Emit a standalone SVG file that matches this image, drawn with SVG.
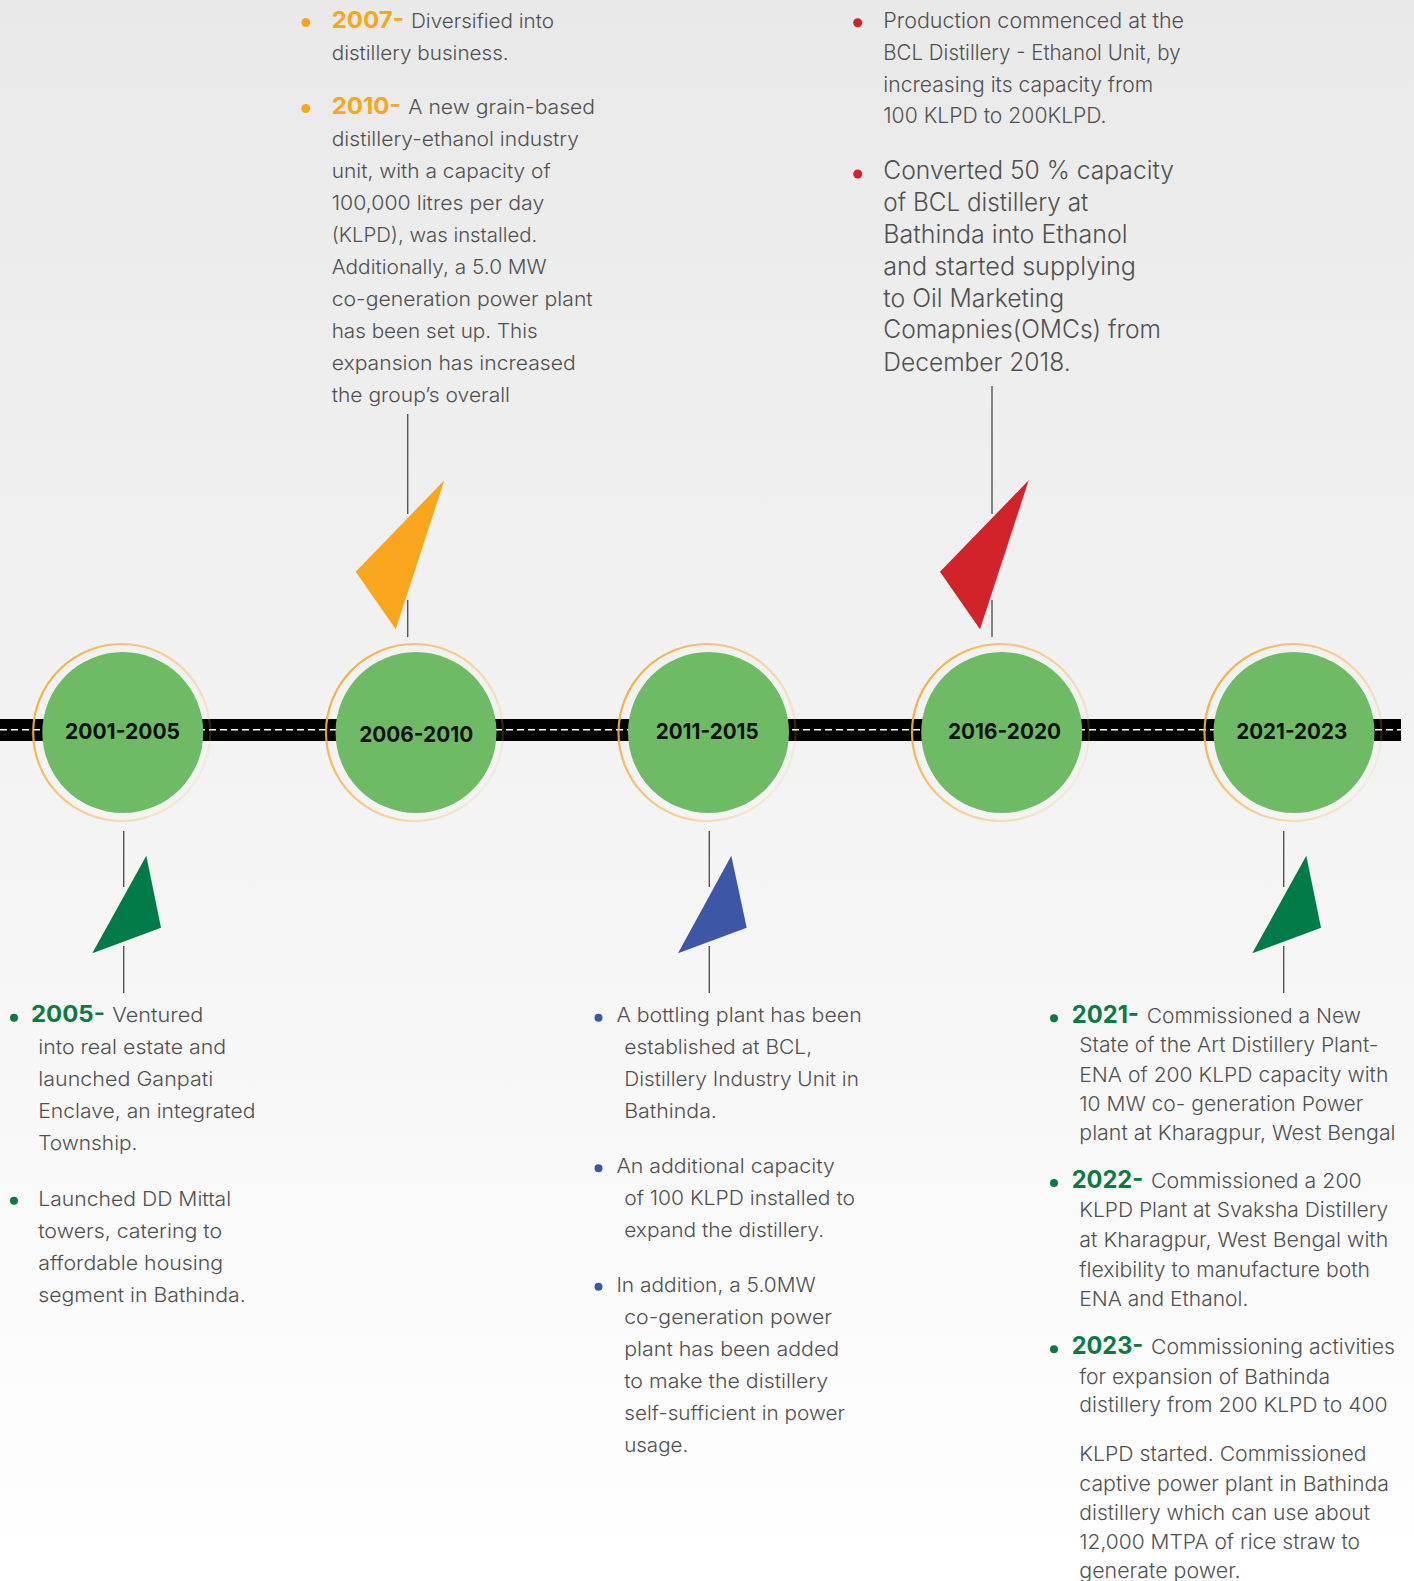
<svg xmlns="http://www.w3.org/2000/svg" width="1414" height="1581" viewBox="0 0 1414 1581">
<defs>
<linearGradient id="bg" x1="0" y1="0" x2="0" y2="1">
<stop offset="0" stop-color="#E9E9E9"/>
<stop offset="0.45" stop-color="#F2F2F2"/>
<stop offset="1" stop-color="#FFFFFF"/>
</linearGradient>
<linearGradient id="ring" x1="0" y1="0.25" x2="1" y2="0.75">
<stop offset="0" stop-color="#F5AE3C" stop-opacity="1"/>
<stop offset="0.5" stop-color="#F5B552" stop-opacity="0.6"/>
<stop offset="1" stop-color="#F5B552" stop-opacity="0.08"/>
</linearGradient>
<style>
.body{font-family:Inter,"Liberation Sans",sans-serif;font-weight:300;fill:#505050;}
.yr{font-family:Inter,"Liberation Sans",sans-serif;font-weight:700;}
.lbl{font-family:Inter,"Liberation Sans",sans-serif;font-weight:700;font-size:22px;fill:#111111;text-anchor:middle;}
.ring{fill:none;stroke:url(#ring);stroke-width:2.2;}
.disc{fill:#6FBA65;}
.conn line{stroke:#555555;stroke-width:1.4;}
</style>
</defs>
<rect x="0" y="0" width="1414" height="1581" fill="url(#bg)"/>

<g id="road">
<rect x="0" y="719" width="1401" height="22" fill="#000000"/>
<line x1="0" y1="729.8" x2="1401" y2="729.8" stroke="#FFFFFF" stroke-width="1.5" stroke-dasharray="7 4"/>
</g>

<g id="connectors" class="conn">
<line x1="407.7" y1="414" x2="407.7" y2="514"/>
<line x1="407.7" y1="600" x2="407.7" y2="637"/>
<polygon points="444.3,480.3 355.7,571.7 395.7,629.3" fill="#F9A61C"/>
<line x1="992" y1="386" x2="992" y2="514"/>
<line x1="992" y1="600" x2="992" y2="637"/>
<polygon points="1028.7,480.3 940,571.7 980,629.3" fill="#D2222A"/>
<line x1="123.7" y1="831" x2="123.7" y2="887"/>
<line x1="123.7" y1="946" x2="123.7" y2="993"/>
<polygon points="146.3,855.7 161,927.7 92.3,953.3" fill="#007A47"/>
<line x1="709.3" y1="831" x2="709.3" y2="887"/>
<line x1="709.3" y1="946" x2="709.3" y2="993"/>
<polygon points="731.3,855.7 746.7,927.7 678,953.3" fill="#3D56A6"/>
<line x1="1283.7" y1="831" x2="1283.7" y2="887"/>
<line x1="1283.7" y1="946" x2="1283.7" y2="993"/>
<polygon points="1306.3,855.7 1321,927.7 1252.3,953.3" fill="#007A47"/>
</g>

<g id="node-2001-2005">
<circle class="ring" cx="121.7" cy="732.5" r="88.5"/>
<circle class="disc" cx="122.8" cy="732.5" r="80.5"/>
<text class="lbl" x="122.5" y="739.3" textLength="115" lengthAdjust="spacingAndGlyphs">2001-2005</text>
</g>
<g id="node-2006-2010">
<circle class="ring" cx="414.5" cy="732.5" r="88.5"/>
<circle class="disc" cx="416" cy="732.5" r="80.5"/>
<text class="lbl" x="416.2" y="741.7" textLength="114" lengthAdjust="spacingAndGlyphs">2006-2010</text>
</g>
<g id="node-2011-2015">
<circle class="ring" cx="707" cy="732.5" r="88.5"/>
<circle class="disc" cx="708.5" cy="732.5" r="80.5"/>
<text class="lbl" x="707.2" y="739.3" textLength="103" lengthAdjust="spacingAndGlyphs">2011-2015</text>
</g>
<g id="node-2016-2020">
<circle class="ring" cx="1000.5" cy="732.5" r="88.5"/>
<circle class="disc" cx="1001.7" cy="732.5" r="80.5"/>
<text class="lbl" x="1004.5" y="739.3" textLength="113" lengthAdjust="spacingAndGlyphs">2016-2020</text>
</g>
<g id="node-2021-2023">
<circle class="ring" cx="1293" cy="732.5" r="88.5"/>
<circle class="disc" cx="1294" cy="732.5" r="80.5"/>
<text class="lbl" x="1291.7" y="739.3" textLength="111" lengthAdjust="spacingAndGlyphs">2021-2023</text>
</g>

<g id="notes-2006-2010" font-size="20">
<circle cx="305.8" cy="22.5" r="4.5" fill="#F9A61C"/>
<circle cx="305.8" cy="108.5" r="4.5" fill="#F9A61C"/>
<text class="yr" x="331.7" y="28.3" font-size="23.5" fill="#F9A61C" textLength="72.3" lengthAdjust="spacingAndGlyphs">2007-</text>
<text class="body" x="411" y="28.3" textLength="143" lengthAdjust="spacingAndGlyphs">Diversified into</text>
<text class="body" x="331.7" y="60" textLength="177" lengthAdjust="spacingAndGlyphs">distillery business.</text>
<text class="yr" x="331.7" y="114" font-size="23.5" fill="#F9A61C" textLength="69" lengthAdjust="spacingAndGlyphs">2010-</text>
<text class="body" x="408.3" y="114" textLength="186.7" lengthAdjust="spacingAndGlyphs">A new grain-based</text>
<text class="body" x="331.7" y="146" textLength="247.3" lengthAdjust="spacingAndGlyphs">distillery-ethanol industry</text>
<text class="body" x="331.7" y="178" textLength="219" lengthAdjust="spacingAndGlyphs">unit, with a capacity of</text>
<text class="body" x="331.7" y="210" textLength="212.6" lengthAdjust="spacingAndGlyphs">100,000 litres per day</text>
<text class="body" x="331.7" y="242" textLength="205.6" lengthAdjust="spacingAndGlyphs">(KLPD), was installed.</text>
<text class="body" x="331.7" y="274" textLength="215" lengthAdjust="spacingAndGlyphs">Additionally, a 5.0 MW</text>
<text class="body" x="331.7" y="306" textLength="261" lengthAdjust="spacingAndGlyphs">co-generation power plant</text>
<text class="body" x="331.7" y="338" textLength="206" lengthAdjust="spacingAndGlyphs">has been set up. This</text>
<text class="body" x="331.7" y="370" textLength="244" lengthAdjust="spacingAndGlyphs">expansion has increased</text>
<text class="body" x="331.7" y="401.7" textLength="178.3" lengthAdjust="spacingAndGlyphs">the group’s overall</text>
</g>

<g id="notes-2016-2020">
<circle cx="857.7" cy="22.7" r="4.5" fill="#D2222A"/>
<circle cx="857.7" cy="174" r="4.5" fill="#D2222A"/>
<g font-size="21.5">
<text class="body" x="883.3" y="28.3" textLength="300.7" lengthAdjust="spacingAndGlyphs">Production commenced at the</text>
<text class="body" x="883.3" y="60" textLength="297.3" lengthAdjust="spacingAndGlyphs">BCL Distillery - Ethanol Unit, by</text>
<text class="body" x="883.3" y="91.7" textLength="270" lengthAdjust="spacingAndGlyphs">increasing its capacity from</text>
<text class="body" x="883.3" y="123.3" textLength="223.3" lengthAdjust="spacingAndGlyphs">100 KLPD to 200KLPD.</text>
</g>
<g font-size="25">
<text class="body" x="883.3" y="179" textLength="290.7" lengthAdjust="spacingAndGlyphs">Converted 50 % capacity</text>
<text class="body" x="883.3" y="210.7" textLength="205" lengthAdjust="spacingAndGlyphs">of BCL distillery at</text>
<text class="body" x="883.3" y="242.7" textLength="244.3" lengthAdjust="spacingAndGlyphs">Bathinda into Ethanol</text>
<text class="body" x="883.3" y="275" textLength="252.7" lengthAdjust="spacingAndGlyphs">and started supplying</text>
<text class="body" x="883.3" y="306.7" textLength="181" lengthAdjust="spacingAndGlyphs">to Oil Marketing</text>
<text class="body" x="883.3" y="338.3" textLength="277.7" lengthAdjust="spacingAndGlyphs">Comapnies(OMCs) from</text>
<text class="body" x="883.3" y="370.7" textLength="187.3" lengthAdjust="spacingAndGlyphs">December 2018.</text>
</g>
</g>

<g id="notes-2001-2005" font-size="20">
<circle cx="14" cy="1017.7" r="4" fill="#0A7A43"/>
<circle cx="14" cy="1200.7" r="4" fill="#0A7A43"/>
<text class="yr" x="30.9" y="1022.3" font-size="22.5" fill="#0A7A43" textLength="74" lengthAdjust="spacingAndGlyphs">2005-</text>
<text class="body" x="112.3" y="1022.3" textLength="91" lengthAdjust="spacingAndGlyphs">Ventured</text>
<text class="body" x="38.2" y="1054.3" textLength="188" lengthAdjust="spacingAndGlyphs">into real estate and</text>
<text class="body" x="38.2" y="1086.3" textLength="175" lengthAdjust="spacingAndGlyphs">launched Ganpati</text>
<text class="body" x="38.2" y="1118.3" textLength="217.2" lengthAdjust="spacingAndGlyphs">Enclave, an integrated</text>
<text class="body" x="38.2" y="1150" textLength="99.3" lengthAdjust="spacingAndGlyphs">Township.</text>
<text class="body" x="38.2" y="1205.7" textLength="193" lengthAdjust="spacingAndGlyphs">Launched DD Mittal</text>
<text class="body" x="38.2" y="1237.7" textLength="184" lengthAdjust="spacingAndGlyphs">towers, catering to</text>
<text class="body" x="38.2" y="1269.7" textLength="185" lengthAdjust="spacingAndGlyphs">affordable housing</text>
<text class="body" x="38.2" y="1301.7" textLength="207.6" lengthAdjust="spacingAndGlyphs">segment in Bathinda.</text>
</g>

<g id="notes-2011-2015" font-size="20">
<circle cx="598.5" cy="1017.7" r="4" fill="#3D56A6"/>
<circle cx="598.5" cy="1168.3" r="4" fill="#3D56A6"/>
<circle cx="598.5" cy="1286.7" r="4" fill="#3D56A6"/>
<text class="body" x="616.4" y="1022.3" textLength="245.3" lengthAdjust="spacingAndGlyphs">A bottling plant has been</text>
<text class="body" x="624.2" y="1054.3" textLength="188" lengthAdjust="spacingAndGlyphs">established at BCL,</text>
<text class="body" x="624.2" y="1086.3" textLength="234.7" lengthAdjust="spacingAndGlyphs">Distillery Industry Unit in</text>
<text class="body" x="624.2" y="1118.3" textLength="92.7" lengthAdjust="spacingAndGlyphs">Bathinda.</text>
<text class="body" x="616.4" y="1173.3" textLength="218.4" lengthAdjust="spacingAndGlyphs">An additional capacity</text>
<text class="body" x="624.2" y="1205" textLength="230.8" lengthAdjust="spacingAndGlyphs">of 100 KLPD installed to</text>
<text class="body" x="624.2" y="1237" textLength="200" lengthAdjust="spacingAndGlyphs">expand the distillery.</text>
<text class="body" x="616.4" y="1291.7" textLength="199.3" lengthAdjust="spacingAndGlyphs">In addition, a 5.0MW</text>
<text class="body" x="624.2" y="1323.7" textLength="207.8" lengthAdjust="spacingAndGlyphs">co-generation power</text>
<text class="body" x="624.2" y="1355.7" textLength="215" lengthAdjust="spacingAndGlyphs">plant has been added</text>
<text class="body" x="624.2" y="1387.7" textLength="204" lengthAdjust="spacingAndGlyphs">to make the distillery</text>
<text class="body" x="624.2" y="1419.7" textLength="220.7" lengthAdjust="spacingAndGlyphs">self-sufficient in power</text>
<text class="body" x="624.2" y="1451.7" textLength="64" lengthAdjust="spacingAndGlyphs">usage.</text>
</g>

<g id="notes-2021-2023" font-size="20.5">
<circle cx="1054" cy="1018.3" r="4" fill="#0A7A43"/>
<circle cx="1054" cy="1183" r="4" fill="#0A7A43"/>
<circle cx="1054" cy="1349.3" r="4" fill="#0A7A43"/>
<text class="yr" x="1071.7" y="1023.2" font-size="24" fill="#0A7A43" textLength="67.3" lengthAdjust="spacingAndGlyphs">2021-</text>
<text class="body" x="1146.7" y="1023.2" textLength="214.3" lengthAdjust="spacingAndGlyphs">Commissioned a New</text>
<text class="body" x="1079.3" y="1052.2" textLength="299" lengthAdjust="spacingAndGlyphs">State of the Art Distillery Plant-</text>
<text class="body" x="1079.3" y="1081.6" textLength="309" lengthAdjust="spacingAndGlyphs">ENA of 200 KLPD capacity with</text>
<text class="body" x="1079.3" y="1110.6" textLength="284" lengthAdjust="spacingAndGlyphs">10 MW co- generation Power</text>
<text class="body" x="1079.3" y="1140" textLength="316.3" lengthAdjust="spacingAndGlyphs">plant at Kharagpur, West Bengal</text>
<text class="yr" x="1071.7" y="1187.9" font-size="24" fill="#0A7A43" textLength="71.6" lengthAdjust="spacingAndGlyphs">2022-</text>
<text class="body" x="1151" y="1187.9" textLength="210.7" lengthAdjust="spacingAndGlyphs">Commissioned a 200</text>
<text class="body" x="1079.3" y="1217.3" textLength="309" lengthAdjust="spacingAndGlyphs">KLPD Plant at Svaksha Distillery</text>
<text class="body" x="1079.3" y="1247" textLength="309" lengthAdjust="spacingAndGlyphs">at Kharagpur, West Bengal with</text>
<text class="body" x="1079.3" y="1276.5" textLength="290.7" lengthAdjust="spacingAndGlyphs">flexibility to manufacture both</text>
<text class="body" x="1079.3" y="1305.5" textLength="169" lengthAdjust="spacingAndGlyphs">ENA and Ethanol.</text>
<text class="yr" x="1071.7" y="1353.7" font-size="24" fill="#0A7A43" textLength="71.6" lengthAdjust="spacingAndGlyphs">2023-</text>
<text class="body" x="1151" y="1353.7" textLength="244" lengthAdjust="spacingAndGlyphs">Commissioning activities</text>
<text class="body" x="1079.3" y="1383.9" textLength="250.7" lengthAdjust="spacingAndGlyphs">for expansion of Bathinda</text>
<text class="body" x="1079.3" y="1412.2" textLength="308.3" lengthAdjust="spacingAndGlyphs">distillery from 200 KLPD to 400</text>
<text class="body" x="1079.3" y="1461.2" textLength="287.3" lengthAdjust="spacingAndGlyphs">KLPD started. Commissioned</text>
<text class="body" x="1079.3" y="1490.6" textLength="309.7" lengthAdjust="spacingAndGlyphs">captive power plant in Bathinda</text>
<text class="body" x="1079.3" y="1519.6" textLength="290.7" lengthAdjust="spacingAndGlyphs">distillery which can use about</text>
<text class="body" x="1079.3" y="1548.6" textLength="280.7" lengthAdjust="spacingAndGlyphs">12,000 MTPA of rice straw to</text>
<text class="body" x="1079.3" y="1578" textLength="161.3" lengthAdjust="spacingAndGlyphs">generate power.</text>
</g>
</svg>
